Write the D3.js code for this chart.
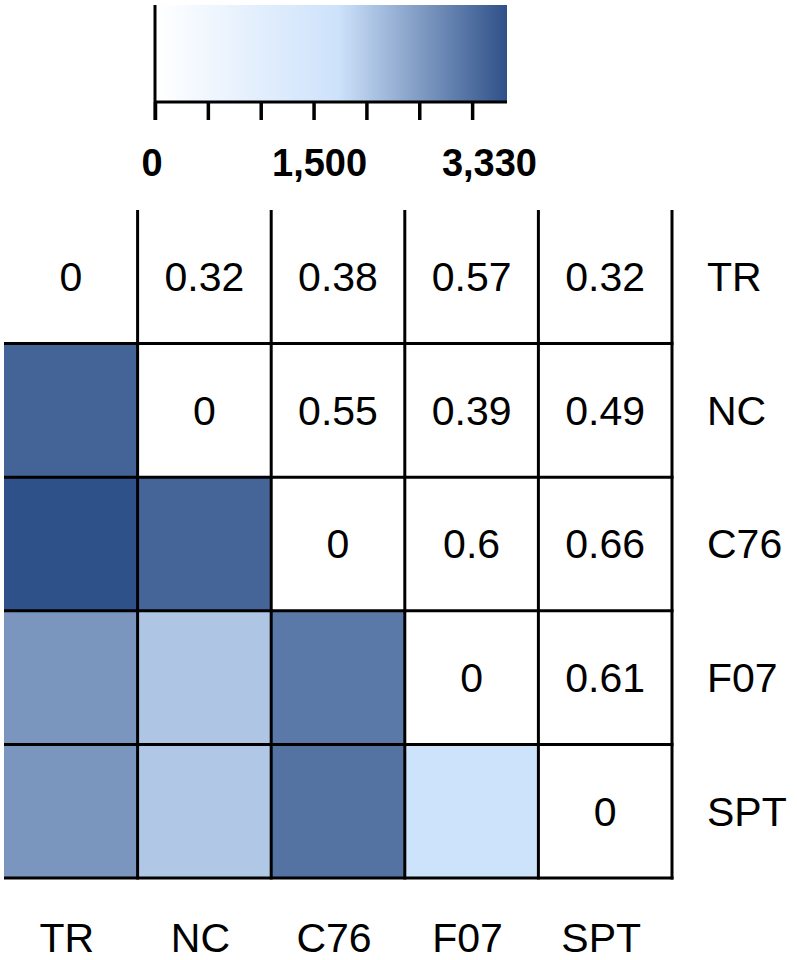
<!DOCTYPE html>
<html>
<head>
<meta charset="utf-8">
<title>Distance heatmap</title>
<script src="https://cdnjs.cloudflare.com/ajax/libs/d3/7.8.5/d3.min.js"></script>
<style>
body { margin: 0; background: #fff; }
text { font-family: "Liberation Sans", Arial, sans-serif; fill: #000; }
.cellval, .rowlab, .collab { font-size: 41px; }
.barlab { font-size: 38px; font-weight: bold; }
.grid line { stroke: #000; stroke-width: 3; }
</style>
</head>
<body>
<svg id="vis" width="797" height="960"></svg>
<script>
var groups = ['TR', 'NC', 'C76', 'F07', 'SPT'];

// upper triangle (incl. diagonal): printed values, row by row
var upperTR  = [0, 0.32, 0.38, 0.57, 0.32];
var upperNC  = [0, 0.55, 0.39, 0.49];
var upperC76 = [0, 0.6, 0.66];
var upperF07 = [0, 0.61];
var upperSPT = [0];

// lower triangle: shaded values (0 - 3,330)
var lowerNC  = [3120];
var lowerC76 = [3330, 3110];
var lowerF07 = [2570, 2050, 2900];
var lowerSPT = [2570, 2020, 2960, 1730];

var barMax = 3330;
var barTicks = d3.range(0, 3001, 500);
var barLabels = [0, 1500, 3330];
var stopColors = ['#ffffff', '#cde2fb', '#2f5189'];
var stopOffsets = [0, 0.52, 1];

var upper = [upperTR, upperNC, upperC76, upperF07, upperSPT];
var lower = [[], lowerNC, lowerC76, lowerF07, lowerSPT];

var cells = [];
groups.forEach(function(r, i) {
  upper[i].forEach(function(v, k) { cells.push({row: r, col: groups[i + k], text: v, shade: null}); });
  lower[i].forEach(function(v, j) { cells.push({row: r, col: groups[j], text: null, shade: v}); });
});

var svg = d3.select('#vis');

var x = d3.scaleBand().domain(groups).range([4, 672]);
var y = d3.scaleBand().domain(groups).range([210, 878]);

var color = d3.scaleLinear()
  .domain(stopOffsets.map(d => d * barMax))
  .range(stopColors)
  .interpolate(d3.interpolateRgb);

// cells
var g = svg.append('g');
g.selectAll('.cell')
  .data(cells).enter().append('rect')
    .attr('class', 'cell')
    .attr('x', d => x(d.col))
    .attr('y', d => y(d.row))
    .attr('width', x.bandwidth())
    .attr('height', y.bandwidth())
    .style('fill', d => d.shade === null ? '#fff' : color(d.shade));

g.selectAll('.cellval')
  .data(cells.filter(d => d.text !== null)).enter().append('text')
    .attr('class', 'cellval')
    .attr('x', d => x(d.col) + x.bandwidth() / 2)
    .attr('y', d => y(d.row) + y.bandwidth() / 2)
    .attr('dy', '0.35em')
    .attr('text-anchor', 'middle')
    .text(d => d.text);

// grid lines: inner + right + bottom, no top/left border
var grid = svg.append('g').attr('class', 'grid');
var xEdges = groups.slice(1).map(d => x(d)).concat([x.range()[1]]);
var yEdges = groups.slice(1).map(d => y(d)).concat([y.range()[1]]);
grid.selectAll('.vline')
  .data(xEdges).enter().append('line')
    .attr('x1', d => d).attr('x2', d => d)
    .attr('y1', y.range()[0]).attr('y2', y.range()[1] + 1.5);
grid.selectAll('.hline')
  .data(yEdges).enter().append('line')
    .attr('y1', d => d).attr('y2', d => d)
    .attr('x1', x.range()[0]).attr('x2', x.range()[1] + 1.5);

// row labels (right) and column labels (bottom)
svg.selectAll('.rowlab')
  .data(groups).enter().append('text')
    .attr('class', 'rowlab')
    .attr('x', 707)
    .attr('y', d => y(d) + y.bandwidth() / 2)
    .attr('dy', '0.35em')
    .text(d => d);

svg.selectAll('.collab')
  .data(groups).enter().append('text')
    .attr('class', 'collab')
    .attr('x', d => x(d) + x.bandwidth() / 2 - 4)
    .attr('y', 938)
    .attr('dy', '0.35em')
    .attr('text-anchor', 'middle')
    .text(d => d);

// colour bar
var bx = d3.scaleLinear().domain([0, barMax]).range([155, 507]);
var defs = svg.append('defs');
var grad = defs.append('linearGradient').attr('id', 'grad');
grad.selectAll('stop')
  .data(stopOffsets).enter().append('stop')
    .attr('offset', d => d)
    .attr('stop-color', (d, i) => stopColors[i]);

var bar = svg.append('g');
bar.append('rect')
  .attr('x', bx(0)).attr('y', 5)
  .attr('width', bx(barMax) - bx(0)).attr('height', 97)
  .style('fill', 'url(#grad)');

bar.append('g')
  .attr('transform', 'translate(0,102)')
  .call(d3.axisBottom(bx).tickValues(barTicks).tickSize(18).tickFormat(''))
  .call(a => a.select('.domain').attr('d', `M${bx(0)},0H${bx(barMax)}`).attr('stroke-width', 3))
  .call(a => a.selectAll('.tick line').attr('stroke-width', 3.5));

bar.append('line')
  .attr('x1', bx(0)).attr('x2', bx(0))
  .attr('y1', 5).attr('y2', 120)
  .attr('stroke', '#000').attr('stroke-width', 3);

bar.selectAll('.barlab')
  .data(barLabels).enter().append('text')
    .attr('class', 'barlab')
    .attr('x', d => d === barMax ? bx(d) + 30 : bx(d) + (d === 0 ? -3 : 6))
    .attr('y', 176)
    .attr('text-anchor', d => d === barMax ? 'end' : 'middle')
    .text(d => d3.format(',')(d));
</script>
</body>
</html>
